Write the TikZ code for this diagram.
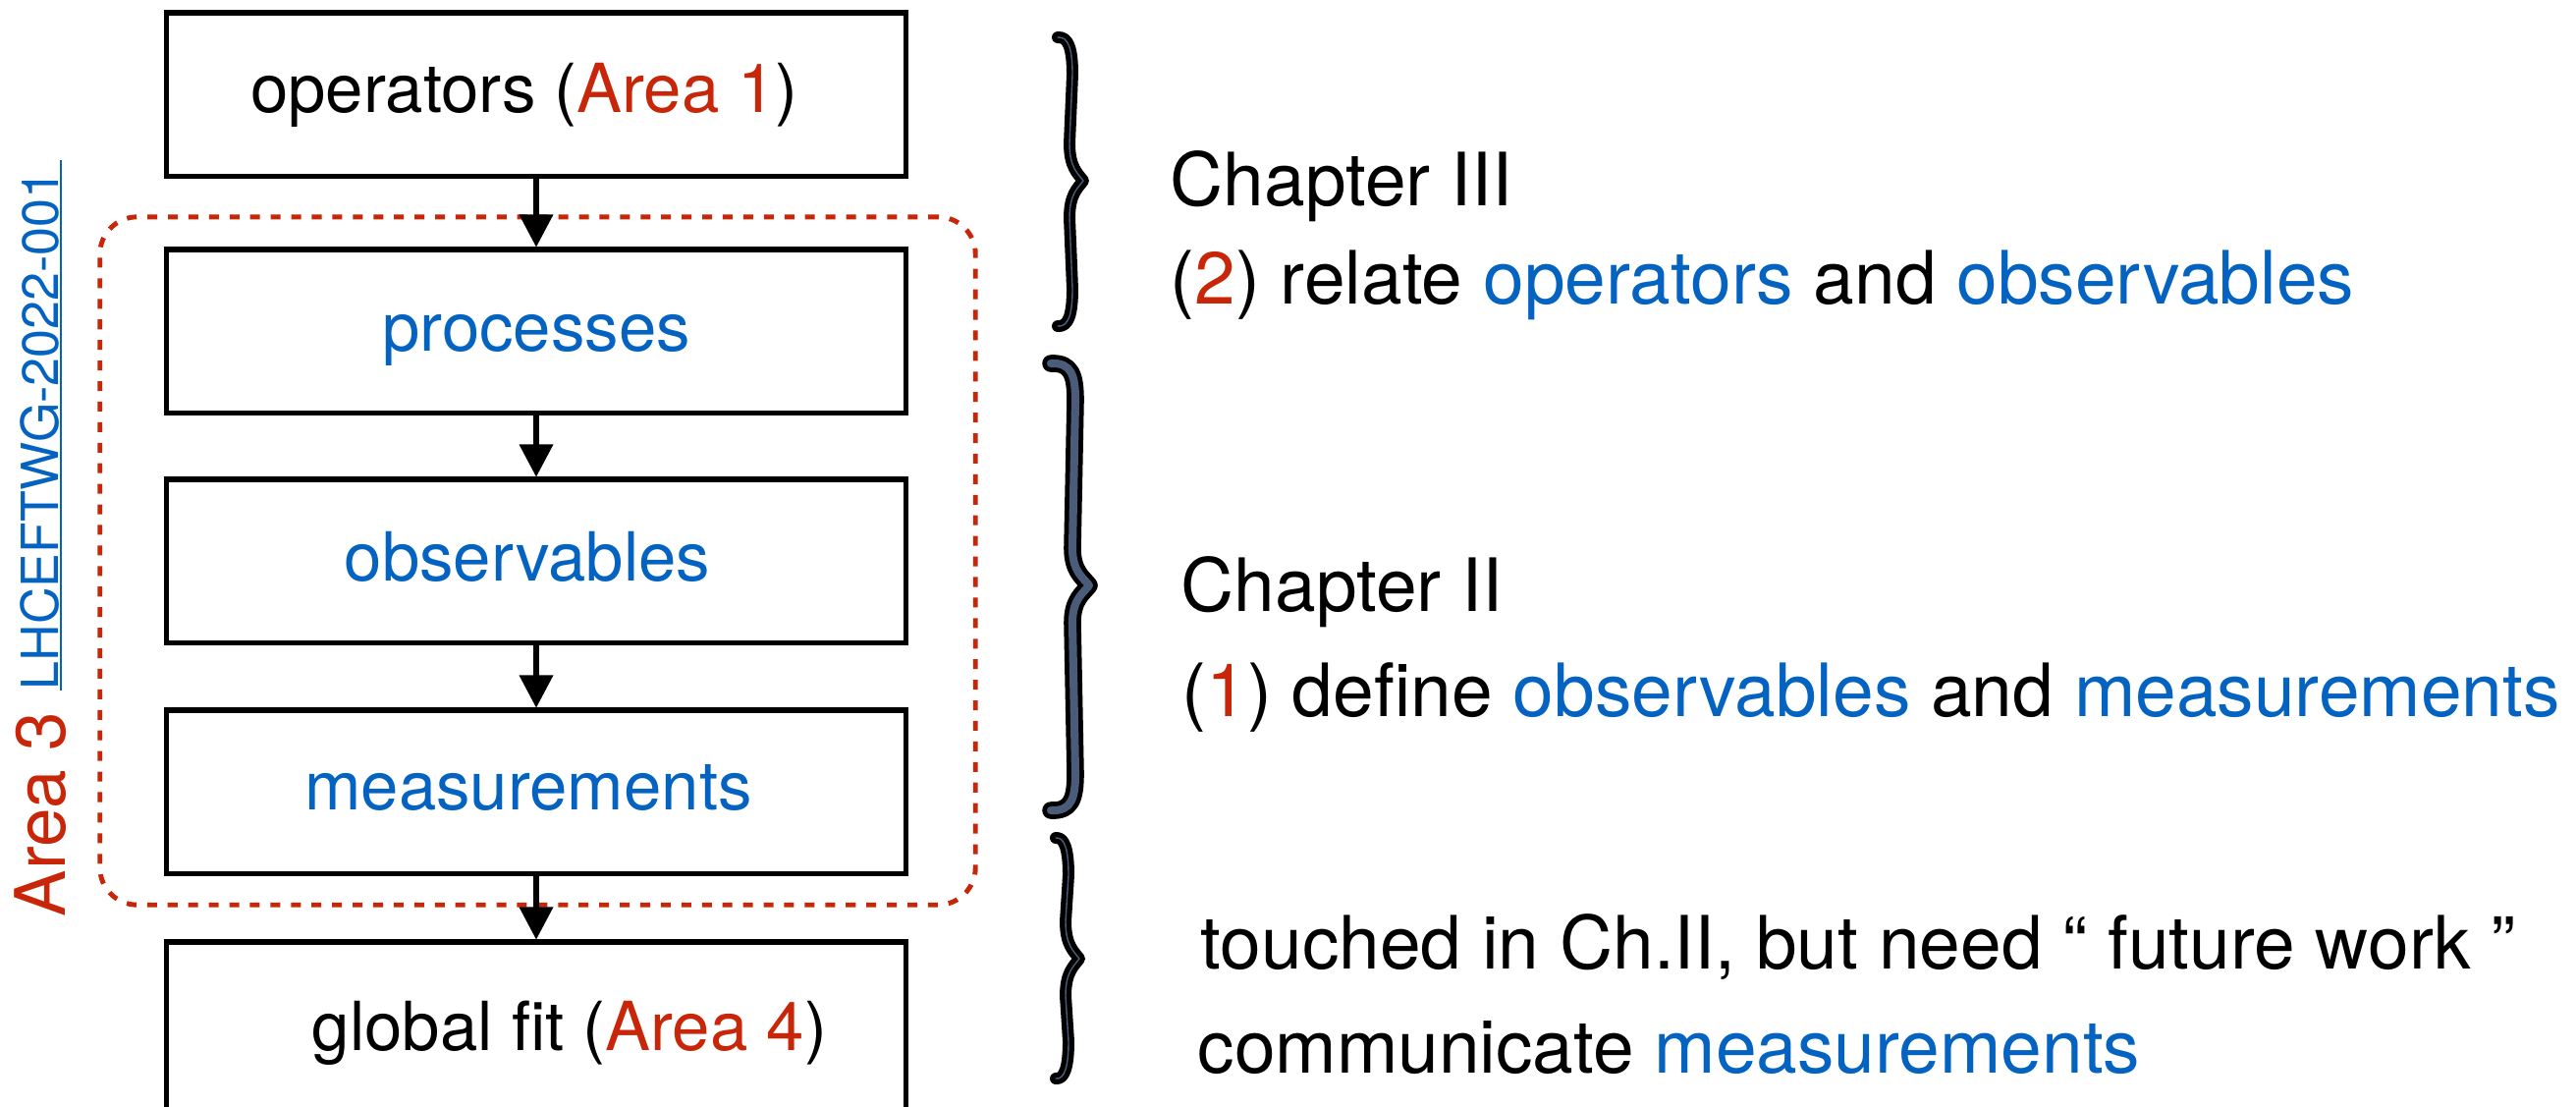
\documentclass[tikz,border=0pt]{standalone}
\usepackage{fontspec}
\setmainfont{TeX Gyre Heros}

\definecolor{areared}{RGB}{200,38,8}
\definecolor{linkblue}{RGB}{4,99,193}
\definecolor{braceslate}{RGB}{74,92,122}

\newcommand\lblboxfont{\fontsize{19.6pt}{23pt}\selectfont}
\newcommand\lblsidefont{\fontsize{21.3pt}{25pt}\selectfont}
\newcommand\lblareafont{\fontsize{20.2pt}{24pt}\selectfont}
\newcommand\lblreffont{\fontsize{14.8pt}{18pt}\selectfont}
\newcommand\rd[1]{\textcolor{areared}{#1}}
\newcommand\bl[1]{\textcolor{linkblue}{#1}}

% curly brace: #1 end x, #2 top y, #3 stem x, #4 tip x, #5 tip y, #6 bottom y
\newcommand\chapbracepath[6]{%
  (#1,#2) .. controls ({#3-4},{#2-1}) and (#3,{#2+12}) .. (#3,{#2+38})
  -- ({#3-3},{#5-38}) .. controls ({#3-3},{#5-14}) and ({#4-6},{#5-8}) .. (#4,#5)
  .. controls ({#4-6},{#5+8}) and ({#3-3},{#5+14}) .. ({#3-3},{#5+38})
  -- (#3,{#6-38}) .. controls (#3,{#6-12}) and ({#3-4},{#6+1}) .. (#1,#6)}

% downward link between two boxes: shaft plus solid triangular head
\newcommand\flowlink[2]{%
  \draw[flowshaft] (#1.south) -- ([yshift=8.8pt]#2.north);
  \fill[black] (#2.north) -- ++(-17.5,-33) -- ++(35,0) -- cycle;}

\begin{document}
\begin{tikzpicture}[x=0.01cm, y=-0.01cm,
  flowbox/.style={draw=black, line width=1.45pt, minimum width=7.52cm,
    minimum height=1.66cm, inner sep=0pt},
  flowshaft/.style={draw=black, line width=1.9pt},
  area3box/.style={draw=areared, line width=1.4pt,
    dash pattern=on 2.85pt off 3.1pt, rounded corners=0.38cm,
    minimum width=8.91cm, minimum height=7.0cm, inner sep=0pt},
  lbl/.style={inner sep=0pt, anchor=base},
  sidelbl/.style={inner sep=0pt, anchor=base west, font=\lblsidefont},
  bracethin/.style={draw=black, line width=3.4pt, line cap=round, line join=round},
  bracethick/.style={draw=black, line width=5pt, line cap=round, line join=round},
  bracecore/.style={draw=braceslate, line cap=round, line join=round}]

\useasboundingbox (0,0) rectangle (2623,1126);

% Area 3 grouping frame
\node[area3box] (area3) at (547.5,571) {};

% flow boxes
\node[flowbox] (ops)  at (546,96)  {};
\node[flowbox] (proc) at (546,337) {};
\node[flowbox] (obs)  at (546,571) {};
\node[flowbox] (meas) at (546,806) {};
\node[flowbox, minimum height=1.72cm] (fit) at (546,1045) {};

% box labels
\node[lbl, font=\lblboxfont] (opsT)  at (534,114)  {operators (\rd{Area 1})};
\node[lbl, font=\lblboxfont] (procT) at (546,357)  {\bl{processes}};
\node[lbl, font=\lblboxfont] (obsT)  at (537,591)  {\bl{observables}};
\node[lbl, font=\lblboxfont] (measT) at (538,824)  {\bl{measurements}};
\node[lbl, font=\lblboxfont] (fitT)  at (580,1069) {global fit (\rd{Area 4})};

% connectors
\flowlink{ops}{proc}
\flowlink{proc}{obs}
\flowlink{obs}{meas}
\flowlink{meas}{fit}

% vertical side labels
\node[lbl, anchor=base west, rotate=90, font=\lblareafont, text=areared]
  (area3T) at (67,934) {Area 3};
\node[lbl, anchor=base west, rotate=90, font=\lblreffont, text=linkblue]
  (lhc) at (59,703) {LHCEFTWG-2022-001};
\draw[linkblue, line width=0.6pt]
  ([xshift=0.85pt]lhc.base west) -- ([xshift=0.85pt, yshift=2.8pt]lhc.base east);

% braces
\draw[bracethin] \chapbracepath{1077}{38}{1092}{1103}{184}{332};
\draw[bracecore, line width=0.4pt] \chapbracepath{1077}{38}{1092}{1103}{184}{332};
\draw[bracethick] \chapbracepath{1070}{370}{1095}{1109}{596}{825};
\draw[bracecore, line width=2.3pt] \chapbracepath{1070}{370}{1095}{1109}{596}{825};
\draw[bracethin] \chapbracepath{1075}{853}{1088}{1099}{976}{1098};
\draw[bracecore, line width=0.4pt] \chapbracepath{1075}{853}{1088}{1099}{976}{1098};

% chapter notes
\node[sidelbl] (ch3)  at (1191,209)  {Chapter III};
\node[sidelbl] (ch3d) at (1191,309)  {(\rd{2}) relate \bl{operators} and \bl{observables}};
\node[sidelbl] (ch2)  at (1202,622)  {Chapter II};
\node[sidelbl] (ch2d) at (1203,729)  {(\rd{1}) define \bl{observables} and \bl{measurements}};
\node[sidelbl] (fw)   at (1222,986)  {touched in Ch.II, but need “ future work ”};
\node[sidelbl] (fwd)  at (1219,1092) {communicate \bl{measurements}};

\end{tikzpicture}
\end{document}
